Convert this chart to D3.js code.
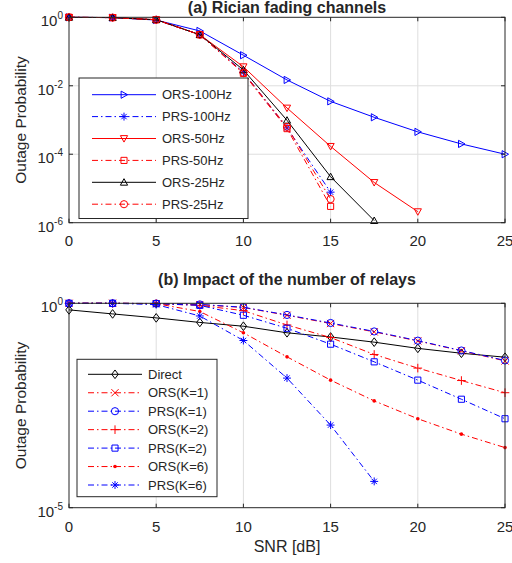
<!DOCTYPE html>
<html>
<head>
<meta charset="utf-8">
<script src="https://cdn.jsdelivr.net/npm/d3@7"></script>
<style>
  body { margin: 0; background: #fff; }
  text { font-family: "Liberation Sans", Arial, sans-serif; fill: #262626; }
</style>
</head>
<body>
<div class="chart"></div>
<script>
// SNR grid shared by both panels
const snr = [0, 2.5, 5, 7.5, 10, 12.5, 15, 17.5, 20, 22.5, 25];
const xTicks = [0, 5, 10, 15, 20, 25];

// (a) Rician fading channels
const ors100 = [1, 0.98, 0.83, 0.40, 0.078, 0.0148, 0.0035, 0.0012, 0.00045, 0.0002, 0.0001];
const prs100 = [1, 0.98, 0.85, 0.31, 0.025, 0.00059, 0.0000078];
const ors50 = [1, 0.98, 0.85, 0.31, 0.036, 0.00224, 0.00017, 0.000015, 0.0000021];
const prs50 = [1, 0.98, 0.85, 0.31, 0.023, 0.00056, 0.000003];
const ors25 = [1, 0.98, 0.85, 0.31, 0.029, 0.00098, 0.000022, 0.00000115];
const prs25 = [1, 0.98, 0.85, 0.31, 0.024, 0.00063, 0.0000049];
const yTicksA = [-6, -4, -2, 0];

// (b) Impact of the number of relays
const direct = [0.69, 0.55, 0.44, 0.34, 0.275, 0.19, 0.15, 0.112, 0.079, 0.060, 0.048];
const orsK1 = [1, 1, 0.98, 0.93, 0.79, 0.51, 0.32, 0.20, 0.12, 0.069, 0.039];
const prsK1 = [1, 1, 0.99, 0.94, 0.80, 0.52, 0.33, 0.205, 0.122, 0.07, 0.04];
const orsK2 = [1, 1, 0.98, 0.89, 0.66, 0.295, 0.145, 0.056, 0.026, 0.0129, 0.0065];
const prsK2 = [1, 1, 0.98, 0.89, 0.51, 0.245, 0.1, 0.037, 0.0132, 0.0045, 0.0015];
const orsK6 = [1, 1, 0.98, 0.63, 0.19, 0.049, 0.0132, 0.0041, 0.0015, 0.00063, 0.000295];
const prsK6 = [1, 1, 0.93, 0.49, 0.123, 0.0148, 0.00105, 0.000044];
const yTicksB = [-5, 0];

const seriesA = [
  { name: "ORS-100Hz", values: ors100, color: "#0000ff", dash: null, marker: "tright" },
  { name: "PRS-100Hz", values: prs100, color: "#0000ff", dash: "6,3,1.5,3", marker: "star" },
  { name: "ORS-50Hz", values: ors50, color: "#ff0000", dash: null, marker: "tdown" },
  { name: "PRS-50Hz", values: prs50, color: "#ff0000", dash: "6,3,1.5,3", marker: "square" },
  { name: "ORS-25Hz", values: ors25, color: "#000000", dash: null, marker: "tup" },
  { name: "PRS-25Hz", values: prs25, color: "#ff0000", dash: "6,3,1.5,3", marker: "circle" }
];

const seriesB = [
  { name: "Direct", values: direct, color: "#000000", dash: null, marker: "diamond" },
  { name: "ORS(K=1)", values: orsK1, color: "#ff0000", dash: "6,3,1.5,3", marker: "cross" },
  { name: "PRS(K=1)", values: prsK1, color: "#0000ff", dash: "6,3,1.5,3", marker: "circle" },
  { name: "ORS(K=2)", values: orsK2, color: "#ff0000", dash: "6,3,1.5,3", marker: "plus" },
  { name: "PRS(K=2)", values: prsK2, color: "#0000ff", dash: "6,3,1.5,3", marker: "square" },
  { name: "ORS(K=6)", values: orsK6, color: "#ff0000", dash: "6,3,1.5,3", marker: "dot" },
  { name: "PRS(K=6)", values: prsK6, color: "#0000ff", dash: "6,3,1.5,3", marker: "star" }
];

const width = 512, height = 563;
const svg = d3.select(".chart").append("svg")
  .attr("width", width)
  .attr("height", height);

const x = d3.scaleLinear().domain([0, 25]).range([69, 505]);

function markerPath(type, s) {
  switch (type) {
    case "tright": return `M${-s * 0.8},${-s}L${s},0L${-s * 0.8},${s}Z`;
    case "tdown": return `M${-s},${-s * 0.8}L${s},${-s * 0.8}L0,${s}Z`;
    case "tup": return `M${-s},${s * 0.8}L${s},${s * 0.8}L0,${-s}Z`;
    case "square": return `M${-s * 0.85},${-s * 0.85}h${s * 1.7}v${s * 1.7}h${-s * 1.7}Z`;
    case "diamond": return `M0,${-s * 1.2}L${s * 0.9},0L0,${s * 1.2}L${-s * 0.9},0Z`;
    case "cross": return `M${-s},${-s}L${s},${s}M${-s},${s}L${s},${-s}`;
    case "plus": return `M${-s * 1.2},0H${s * 1.2}M0,${-s * 1.2}V${s * 1.2}`;
    case "star": {
      const d = s * 0.75;
      return `M${-s * 1.1},0H${s * 1.1}M0,${-s * 1.1}V${s * 1.1}M${-d},${-d}L${d},${d}M${-d},${d}L${d},${-d}`;
    }
    case "circle": return d3.arc()({ innerRadius: 0, outerRadius: s, startAngle: 0, endAngle: 2 * Math.PI });
    default: return "";
  }
}

function drawMarker(g, type, cx, cy, color) {
  if (type === "dot") {
    g.append("circle").attr("cx", cx).attr("cy", cy).attr("r", 1.8).attr("fill", color);
    return;
  }
  g.append("path")
    .attr("transform", `translate(${cx},${cy})`)
    .attr("d", markerPath(type, 3.6))
    .attr("fill", "none")
    .attr("stroke", color)
    .attr("stroke-width", 1);
}

function panel(opts) {
  const { y, top, bottom, yTicks, gridY, series, title, titleY, tickY, legend } = opts;
  const g = svg.append("g");

  // grid
  g.selectAll(".vgrid").data(xTicks.slice(1, -1)).enter().append("line")
    .attr("x1", d => x(d)).attr("x2", d => x(d))
    .attr("y1", top).attr("y2", bottom)
    .attr("stroke", "#dedede").attr("stroke-width", 1);
  if (gridY) {
    g.selectAll(".hgrid").data(yTicks.slice(1, -1)).enter().append("line")
      .attr("x1", x(0)).attr("x2", x(25))
      .attr("y1", d => y(Math.pow(10, d))).attr("y2", d => y(Math.pow(10, d)))
      .attr("stroke", "#dedede").attr("stroke-width", 1);
  }

  // series
  const line = d3.line().x((d, i) => x(snr[i])).y(d => y(d));
  series.forEach(s => {
    g.append("path")
      .datum(s.values)
      .attr("d", line)
      .attr("fill", "none")
      .attr("stroke", s.color)
      .attr("stroke-width", 1)
      .attr("stroke-dasharray", s.dash);
    s.values.forEach((v, i) => drawMarker(g, s.marker, x(snr[i]), y(v), s.color));
  });

  // axes box
  g.append("rect")
    .attr("x", x(0)).attr("y", top)
    .attr("width", x(25) - x(0)).attr("height", bottom - top)
    .attr("fill", "none").attr("stroke", "#262626").attr("stroke-width", 1);

  // ticks (inward, both sides)
  xTicks.forEach(t => {
    g.append("line").attr("x1", x(t)).attr("x2", x(t)).attr("y1", bottom).attr("y2", bottom - 4)
      .attr("stroke", "#262626");
    g.append("line").attr("x1", x(t)).attr("x2", x(t)).attr("y1", top).attr("y2", top + 4)
      .attr("stroke", "#262626");
    g.append("text").attr("x", x(t)).attr("y", tickY)
      .attr("text-anchor", "middle").attr("font-size", 15).text(t);
  });
  yTicks.forEach(t => {
    const yy = y(Math.pow(10, t));
    g.append("line").attr("x1", x(0)).attr("x2", x(0) + 4).attr("y1", yy).attr("y2", yy)
      .attr("stroke", "#262626");
    g.append("line").attr("x1", x(25)).attr("x2", x(25) - 4).attr("y1", yy).attr("y2", yy)
      .attr("stroke", "#262626");
    const lab = g.append("text").attr("x", 63).attr("y", yy + 9)
      .attr("text-anchor", "end").attr("font-size", 15);
    lab.append("tspan").text("10");
    lab.append("tspan").attr("dy", -7).attr("font-size", 10).text(t);
  });

  // y label
  g.append("text")
    .attr("transform", `translate(26,${(top + bottom) / 2}) rotate(-90)`)
    .attr("text-anchor", "middle").attr("font-size", 15.5)
    .text("Outage Probability");

  // title
  g.append("text").attr("x", 287).attr("y", titleY)
    .attr("text-anchor", "middle").attr("font-size", 16).attr("font-weight", "bold")
    .attr("fill", "#000").text(title);

  // legend
  const lg = g.append("g");
  lg.append("rect")
    .attr("x", legend.x0).attr("y", legend.y0)
    .attr("width", legend.x1 - legend.x0).attr("height", legend.y1 - legend.y0)
    .attr("fill", "#fff").attr("stroke", "#262626").attr("stroke-width", 1);
  series.forEach((s, i) => {
    const ly = legend.first + i * legend.step;
    lg.append("line")
      .attr("x1", legend.lx0).attr("x2", legend.lx1).attr("y1", ly).attr("y2", ly)
      .attr("stroke", s.color).attr("stroke-width", 1).attr("stroke-dasharray", s.dash);
    drawMarker(lg, s.marker, (legend.lx0 + legend.lx1) / 2, ly, s.color);
    lg.append("text").attr("x", legend.tx).attr("y", ly + 4.5)
      .attr("font-size", 13).attr("fill", "#000").text(s.name);
  });
}

const yA = d3.scaleLog().domain([1e-6, 1]).range([222.7, 17.3]);
panel({
  y: yA, top: 17.3, bottom: 222.7, yTicks: yTicksA, gridY: true,
  series: seriesA, title: "(a) Rician fading channels", titleY: 13, tickY: 246,
  legend: { x0: 79, x1: 248, y0: 78, y1: 218.5, first: 94.7, step: 21.9, lx0: 92, lx1: 156, tx: 162 }
});

const yB = d3.scaleLog().domain([1e-5, 1]).range([507.7, 303.3]);
panel({
  y: yB, top: 303.3, bottom: 507.7, yTicks: yTicksB, gridY: false,
  series: seriesB, title: "(b) Impact of the number of relays", titleY: 285, tickY: 532,
  legend: { x0: 77, x1: 217, y0: 359.3, y1: 496.7, first: 374.3, step: 18.45, lx0: 88, lx1: 142, tx: 148 }
});

svg.append("text").attr("x", 287).attr("y", 552)
  .attr("text-anchor", "middle").attr("font-size", 16).text("SNR [dB]");
</script>
</body>
</html>
